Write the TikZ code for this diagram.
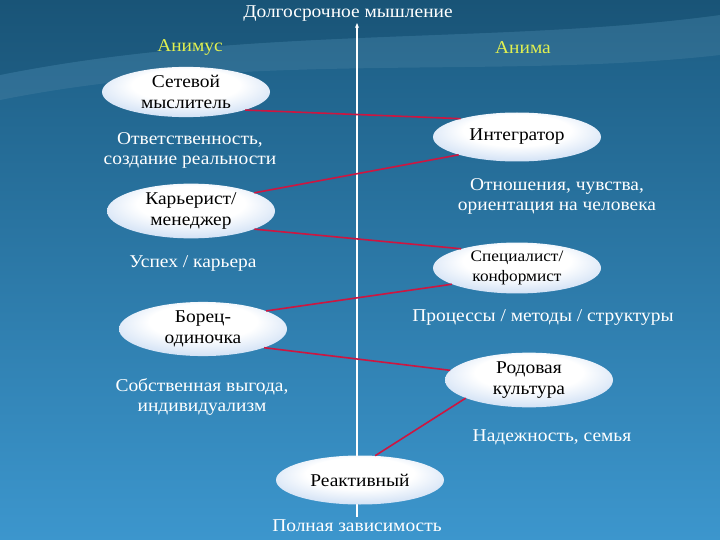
\documentclass[tikz,border=0pt]{standalone}
\usepackage{fontspec}
\setmainfont{Liberation Serif}[FakeStretch=1.08]
\usetikzlibrary{positioning,shapes.geometric,arrows.meta}

\definecolor{bgtop}{RGB}{28,92,130}
\definecolor{bgbot}{RGB}{60,150,205}
\definecolor{linkred}{RGB}{205,22,65}
\definecolor{poleyellow}{RGB}{225,240,80}
\definecolor{ballblue}{RGB}{150,186,232}
\pgfdeclareradialshading{ballshade}{\pgfpoint{0bp}{10bp}}{color(0bp)=(white); color(16bp)=(white); color(30bp)=(white!55!ballblue); color(50bp)=(ballblue)}

\tikzset{
  type/.style={ellipse, minimum width=168pt, minimum height=49pt, inner sep=1pt, align=center, text=black, shading=ballshade, font=\fontsize{18}{21}\selectfont},
  trait/.style={align=center, text=white, font=\fontsize{18}{20}\selectfont},
  pole/.style={text=poleyellow, font=\fontsize{18}{20}\selectfont},
  link/.style={linkred, line width=1.6pt},
  axis/.style={white, line width=1.3pt, -{Stealth[length=5pt,width=4pt]}}
}

\begin{document}
\begin{tikzpicture}[x=1pt, y=-1pt]
    \useasboundingbox (0,0) rectangle (720,540);
    \fill[top color=bgtop, bottom color=bgbot] (0,0) rectangle (720,540);
    \fill[white, opacity=0.07] (0,75) .. controls (250,25) and (500,45) .. (720,15) -- (720,55) .. controls (500,80) and (250,50) .. (0,100) -- cycle;
    \fill[black, opacity=0.08] (0,0) -- (720,0) -- (720,15) .. controls (500,45) and (250,25) .. (0,75) -- cycle;

    \coordinate (axistop) at (357,23);
    \coordinate (axisbottom) at (357,517);
    \draw[axis] (axisbottom) -- (axistop);

    \node[trait] (longterm) at (348,14) {Долгосрочное мышление};
    \node[pole] (animus) at (190,48) {Анимус};
    \node[pole] (anima) at (523,48) {Анима};

    \node[type] (network) at (186,92) {Сетевой\\мыслитель};
    \node[type] (integrator) at (517,137) {Интегратор};
    \node[type] (careerist) at (191,211) {Карьерист/\\менеджер};
    \node[type, font=\fontsize{16}{20}\selectfont] (specialist) at (517,268) {Специалист/\\конформист};
    \node[type] (fighter) at (203,329) {Борец-\\одиночка};
    \node[type] (tribal) at (529,380) {Родовая\\культура};
    \node[type] (reactive) at (360,480) {Реактивный};

    \node[trait] (responsibility) at (190,150) {Ответственность,\\создание реальности};
    \node[trait] (relations) at (557,196) {Отношения, чувства,\\ориентация на человека};
    \node[trait] (success) at (193,263) {Успех / карьера};
    \node[trait] (processes) at (543,318) {Процессы / методы / структуры};
    \node[trait] (selfinterest) at (202,397) {Собственная выгода,\\индивидуализм};
    \node[trait] (family) at (552,437) {Надежность, семья};
    \node[trait] (dependence) at (357,526) {Полная зависимость};

    \draw[link] (network.-17) -- (integrator.162);
    \draw[link] (careerist.16) -- (integrator.-163);
    \draw[link] (careerist.-16) -- (specialist.161);
    \draw[link] (specialist.-166) -- (fighter.16);
    \draw[link] (fighter.-17) -- (tribal.173);
    \draw[link] (tribal.-164) -- (reactive.58);
\end{tikzpicture}
\end{document}
